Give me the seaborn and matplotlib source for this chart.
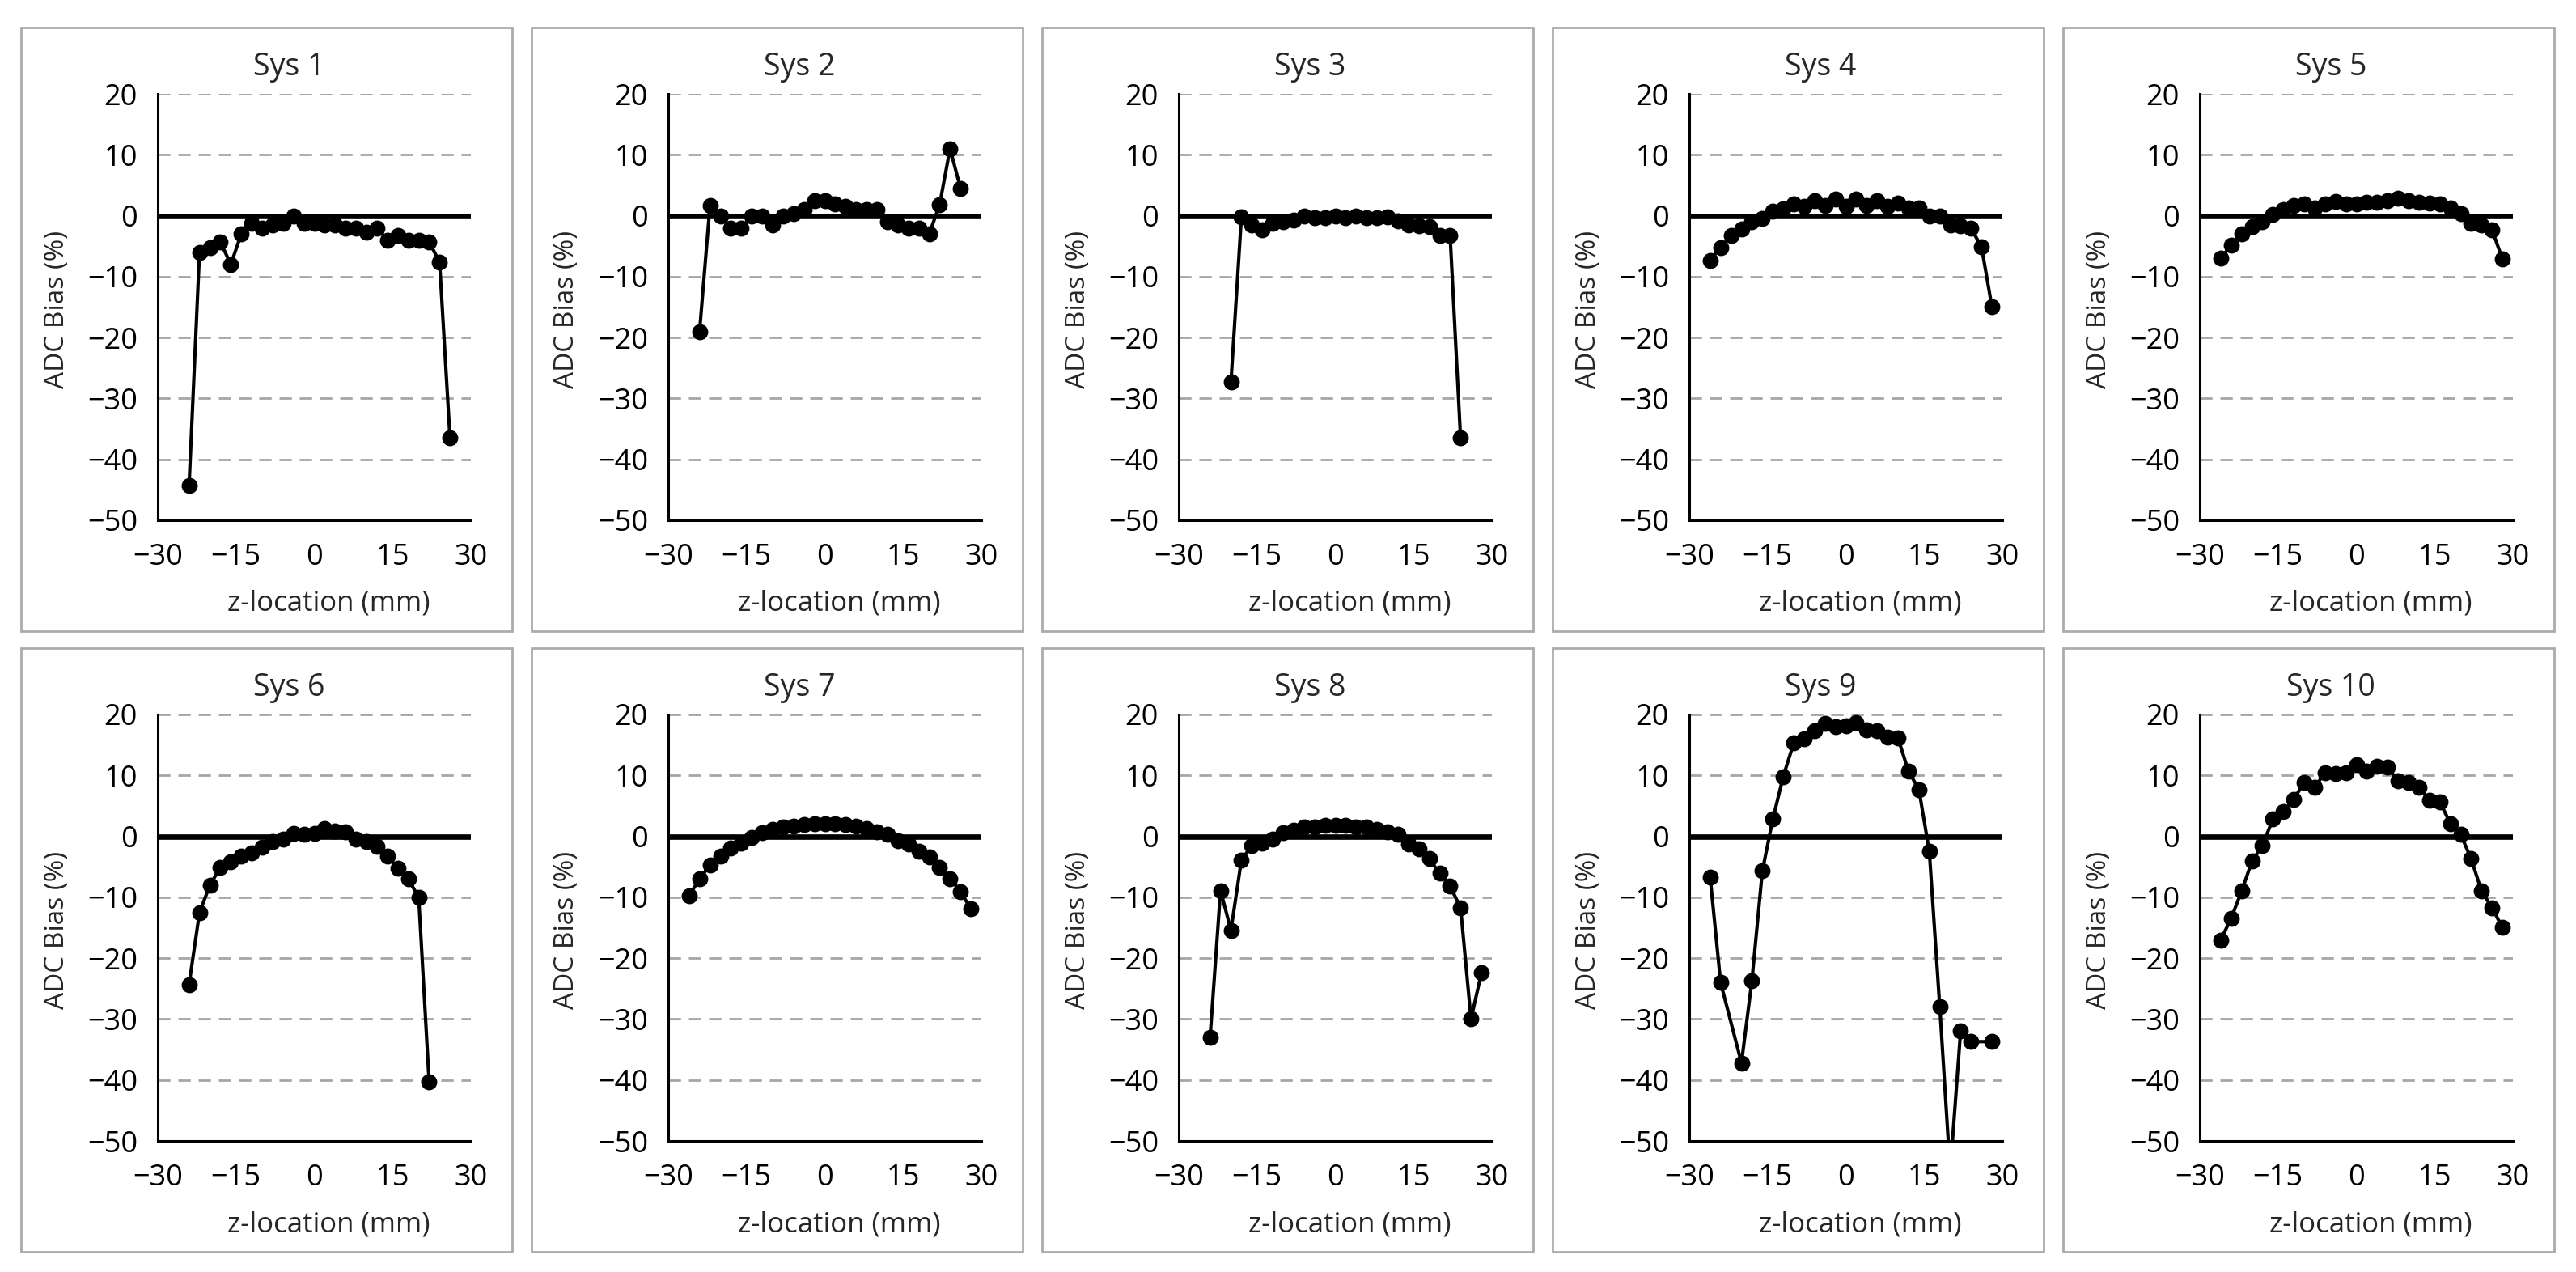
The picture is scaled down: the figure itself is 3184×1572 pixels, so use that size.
import numpy as np
import pandas as pd
import seaborn as sns
import matplotlib.pyplot as plt
from matplotlib.patches import Rectangle

sns.set_style('white')
plt.rcParams['font.family'] = ['Open Sans', 'DejaVu Sans']

# data: z-location (mm) and ADC bias (%)
z1 = [-24, -22, -20, -18, -16, -14, -12, -10, -8, -6, -4, -2, 0, 2, 4, 6, 8, 10, 12, 14, 16, 18, 20, 22, 24, 26]
b1 = [-44.3, -6.0, -5.3, -4.3, -8.0, -3.0, -1.3, -2.0, -1.5, -1.3, 0.0, -1.3, -1.3,
      -1.5, -1.5, -2.0, -2.0, -2.7, -2.0, -4.0, -3.3, -4.0, -4.0, -4.3, -7.6, -36.5]

z2 = [-24, -22, -20, -18, -16, -14, -12, -10, -8, -6, -4, -2, 0, 2, 4, 6, 8, 10, 12, 14, 16, 18, 20, 22, 24, 26]
b2 = [-19.0, 1.7, -0.1, -2.0, -2.0, 0.0, 0.0, -1.5, 0.0, 0.3, 1.0, 2.5, 2.5,
      2.0, 1.5, 1.0, 1.0, 1.0, -1.0, -1.5, -2.0, -2.0, -3.0, 1.8, 11.0, 4.5]

z3 = [-20, -18, -16, -14, -12, -10, -8, -6, -4, -2, 0, 2, 4, 6, 8, 10, 12, 14, 16, 18, 20, 22, 24]
b3 = [-27.3, -0.2, -1.5, -2.3, -1.3, -1.0, -0.7, 0.0, -0.3, -0.3, 0.0, -0.3,
      0.0, -0.3, -0.3, -0.2, -0.8, -1.5, -1.7, -1.8, -3.3, -3.3, -36.5]

z4 = [-26, -24, -22, -20, -18, -16, -14, -12, -10, -8, -6, -4, -2, 0, 2, 4, 6, 8, 10, 12, 14, 16, 18, 20, 22, 24, 26, 28]
b4 = [-7.3, -5.2, -3.3, -2.2, -1.0, -0.5, 0.8, 1.2, 2.0, 1.5, 2.5, 1.7, 2.7, 1.5,
      2.7, 1.7, 2.5, 1.5, 2.1, 1.3, 1.3, 0.0, 0.0, -1.5, -1.7, -2.1, -5.1, -15.0]

z5 = [-26, -24, -22, -20, -18, -16, -14, -12, -10, -8, -6, -4, -2, 0, 2, 4, 6, 8, 10, 12, 14, 16, 18, 20, 22, 24, 26, 28]
b5 = [-7.0, -4.9, -3.0, -1.8, -1.0, 0.2, 1.0, 1.7, 1.9, 1.3, 2.0, 2.3, 2.0, 2.0,
      2.2, 2.2, 2.5, 2.8, 2.5, 2.2, 2.1, 2.0, 1.3, 0.3, -1.3, -1.5, -2.3, -7.1]

z6 = [-24, -22, -20, -18, -16, -14, -12, -10, -8, -6, -4, -2, 0, 2, 4, 6, 8, 10, 12, 14, 16, 18, 20, 22]
b6 = [-24.3, -12.5, -8.0, -5.1, -4.2, -3.3, -2.7, -1.8, -0.8, -0.5, 0.5, 0.3,
      0.5, 1.3, 0.9, 0.7, -0.5, -0.9, -1.7, -3.3, -5.2, -7.0, -10.0, -40.3]

z7 = [-26, -24, -22, -20, -18, -16, -14, -12, -10, -8, -6, -4, -2, 0, 2, 4, 6, 8, 10, 12, 14, 16, 18, 20, 22, 24, 26, 28]
b7 = [-9.7, -7.0, -4.7, -3.2, -1.9, -1.1, -0.2, 0.6, 1.1, 1.5, 1.7, 1.9, 2.1, 2.1,
      2.1, 2.0, 1.7, 1.3, 0.8, 0.3, -0.7, -1.3, -2.5, -3.4, -5.1, -6.9, -9.1, -11.9]

z8 = [-24, -22, -20, -18, -16, -14, -12, -10, -8, -6, -4, -2, 0, 2, 4, 6, 8, 10, 12, 14, 16, 18, 20, 22, 24, 26, 28]
b8 = [-33.0, -8.9, -15.4, -3.9, -1.5, -1.1, -0.4, 0.6, 1.0, 1.5, 1.6, 1.8, 1.8,
      1.8, 1.6, 1.6, 1.1, 0.7, 0.3, -1.2, -2.1, -3.7, -6.1, -8.2, -11.7, -30.0, -22.4]

z9 = [-26, -24, -20, -18, -16, -14, -12, -10, -8, -6, -4, -2, 0, 2, 4, 6, 8, 10, 12, 14, 16, 18, 20, 22, 24, 28]
b9 = [-6.7, -24.0, -37.2, -23.7, -5.7, 2.8, 9.8, 15.3, 16.0, 17.3, 18.5, 18.0, 18.1,
      18.7, 17.5, 17.3, 16.3, 16.1, 10.7, 7.7, -2.5, -28.0, -55.0, -31.9, -33.7, -33.7]

z10 = [-26, -24, -22, -20, -18, -16, -14, -12, -10, -8, -6, -4, -2, 0, 2, 4, 6, 8, 10, 12, 14, 16, 18, 20, 22, 24, 26, 28]
b10 = [-17.0, -13.5, -9.0, -4.1, -1.5, 2.8, 4.1, 6.1, 8.8, 8.0, 10.5, 10.3, 10.5, 11.7,
       10.7, 11.5, 11.3, 9.1, 8.9, 8.0, 5.9, 5.7, 2.1, 0.3, -3.7, -9.0, -11.7, -15.0]

titles = ['Sys 1', 'Sys 2', 'Sys 3', 'Sys 4', 'Sys 5',
          'Sys 6', 'Sys 7', 'Sys 8', 'Sys 9', 'Sys 10']
all_z = [z1, z2, z3, z4, z5, z6, z7, z8, z9, z10]
all_b = [b1, b2, b3, b4, b5, b6, b7, b8, b9, b10]

x_ticks = [-30, -15, 0, 15, 30]
y_ticks = [20, 10, 0, -10, -20, -30, -40, -50]

#===============================================================================
W, H = 3184, 1572
fig = plt.figure(figsize=(W / 200, H / 200), dpi=200)

def fx(px):
    return px / W

def fy(py):
    return 1 - py / H

for i in range(10):
    r, c = divmod(i, 5)
    box_l = 26 + 631 * c
    box_t = 34 + 767 * r
    box_w, box_h = 607, 746

    # grey frame around each chart
    fig.patches.append(Rectangle((fx(box_l), fy(box_t + box_h)), box_w / W, box_h / H,
                                 transform=fig.transFigure, fill=False,
                                 edgecolor='#ababab', lw=1.0, zorder=0))

    ax_l = box_l + 169
    ax_t = box_t + 82
    ax = fig.add_axes([fx(ax_l), fy(ax_t + 527), 387 / W, 527 / H])

    df = pd.DataFrame({'z': all_z[i], 'bias': all_b[i]})

    # grid lines
    for yv in [20, 10, -10, -20, -30, -40]:
        ax.axhline(yv, color='#a6a6a6', lw=1.0, ls=(0, (5.5, 3.5)), zorder=1)
    ax.axhline(0, color='black', lw=2.4, zorder=2)

    sns.lineplot(data=df, x='z', y='bias', ax=ax, color='black', sort=False,
                 marker='o', markersize=6.4, markeredgecolor='black',
                 linewidth=1.5, zorder=3)

    ax.set_xlim(-30, 30)
    ax.set_ylim(-50, 20)
    ax.set_xticks(x_ticks)
    ax.set_yticks(y_ticks)
    ax.tick_params(axis='x', direction='in', length=3.6, width=1.0, pad=10,
                   labelsize=13, colors='black')
    ax.tick_params(axis='y', length=0, pad=9, labelsize=13, colors='black')
    ax.set_xlabel('')
    ax.set_ylabel('')

    for s in ['top', 'right']:
        ax.spines[s].set_visible(False)
    for s in ['left', 'bottom']:
        ax.spines[s].set_color('black')
        ax.spines[s].set_linewidth(1.1)

    # title and axis labels
    fig.text(fx(box_l + 331), fy(box_t + 49), titles[i], ha='center', va='center',
             fontsize=13.5)
    fig.text(fx(box_l + 380), fy(box_t + 712), 'z-location (mm)', ha='center',
             va='center', fontsize=12.5)
    fig.text(fx(box_l + 44), fy(box_t + 348), 'ADC Bias (%)', ha='center',
             va='center', rotation=90, fontsize=12)

plt.savefig('out.png', dpi=200)
plt.close()
